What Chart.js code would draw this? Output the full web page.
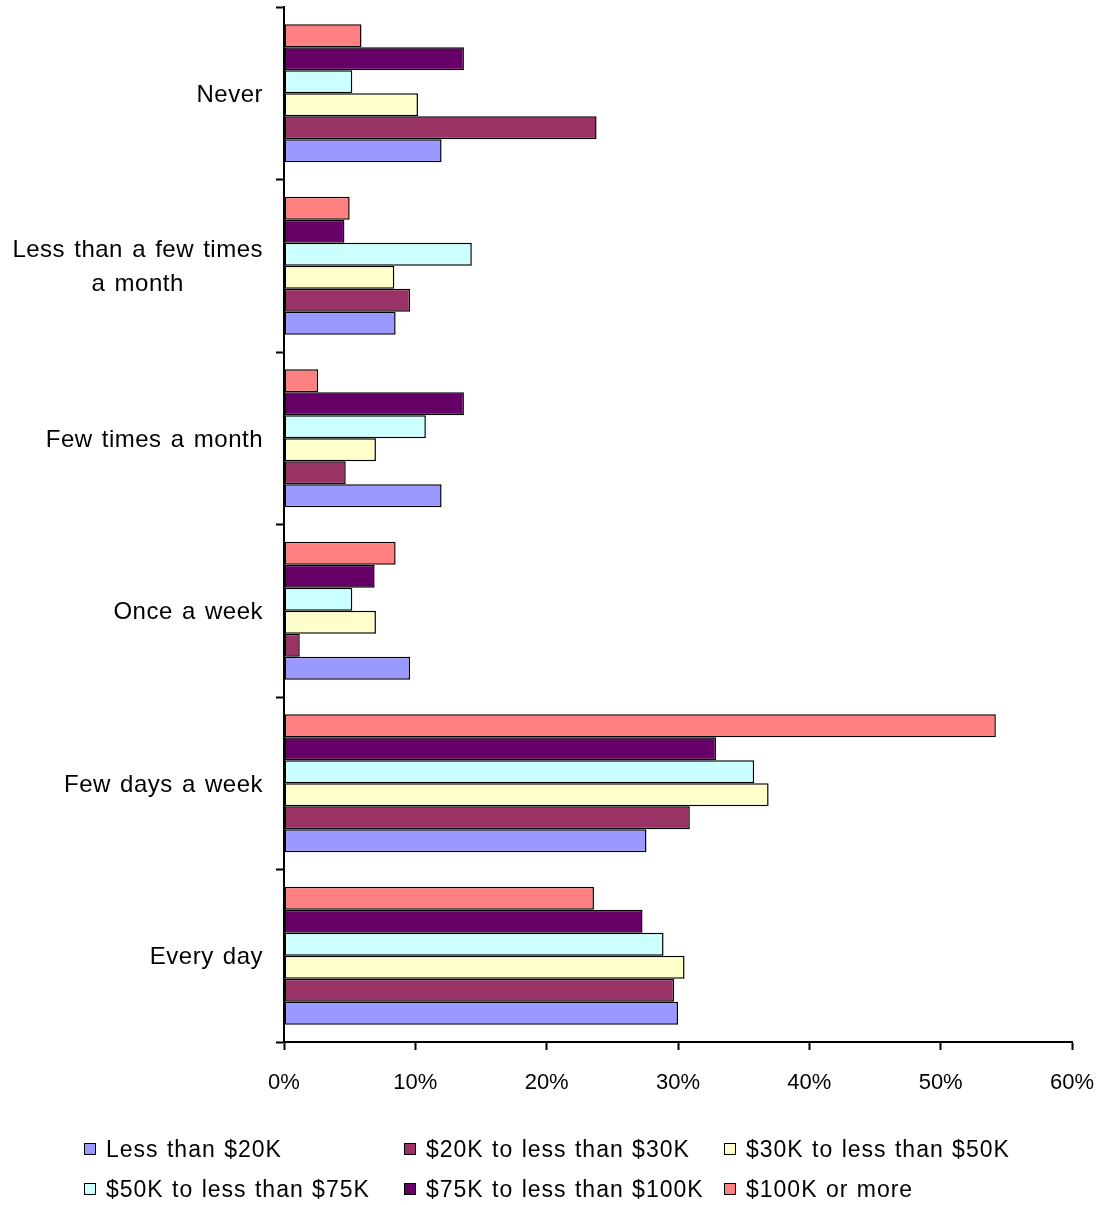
<!DOCTYPE html>
<html>
<head>
<meta charset="utf-8">
<script src="https://cdn.jsdelivr.net/npm/chart.js@4/dist/chart.umd.min.js"></script>
<style>
  html, body { margin: 0; padding: 0; background: #fff; }
  #wrap { position: relative; width: 1104px; height: 1205px; }
  #legend { position: absolute; left: 0; top: 0; width: 1104px; height: 1205px; pointer-events: none;
            font-family: "Liberation Sans", Arial, sans-serif; font-size: 23px; color: #000;
            word-spacing: 1px; letter-spacing: 1px; }
  .item { position: absolute; display: flex; align-items: center; white-space: nowrap; }
  .box { width: 10px; height: 10px; border: 1.5px solid #000; margin-right: 10px; flex: none; }
</style>
</head>
<body>
<div id="wrap">
  <canvas id="c" width="1104" height="1205"></canvas>
  <div id="legend"></div>
</div>
<script>
const categories = [
  "Never",
  ["Less than a few times", "a month"],
  "Few times a month",
  "Once a week",
  "Few days a week",
  "Every day"
];
const seriesNames = [
  "Less than $20K",
  "$20K to less than $30K",
  "$30K to less than $50K",
  "$50K to less than $75K",
  "$75K to less than $100K",
  "$100K or more"
];
const seriesColors = ["#9999FF", "#993366", "#FFFFCC", "#CCFFFF", "#660066", "#FF8080"];
const lessThan20K   = [12.0,  8.5, 12.0, 9.6, 27.6, 30.0];
const from20Kto30K  = [23.8,  9.6,  4.7, 1.2, 30.9, 29.7];
const from30Kto50K  = [10.2,  8.4,  7.0, 7.0, 36.9, 30.5];
const from50Kto75K  = [ 5.2, 14.3, 10.8, 5.2, 35.8, 28.9];
const from75Kto100K = [13.7,  4.6, 13.7, 6.9, 32.9, 27.3];
const over100K      = [ 5.9,  5.0,  2.6, 8.5, 54.2, 23.6];
const xTicks = [0, 10, 20, 30, 40, 50, 60];

const seriesValues = [lessThan20K, from20Kto30K, from30Kto50K, from50Kto75K, from75Kto100K, over100K];

// Datasets in reverse so the first series sits at the bottom of each group
const datasets = [];
for (let i = seriesNames.length - 1; i >= 0; i--) {
  datasets.push({
    label: seriesNames[i],
    data: seriesValues[i],
    backgroundColor: seriesColors[i],
    borderColor: "#000",
    borderWidth: 1.5,
    borderSkipped: false,
    categoryPercentage: 0.8,
    barPercentage: 1.0
  });
}

const FONT = "'Liberation Sans', Arial, sans-serif";

// Draw category labels: block right-aligned, lines centred within the block
const categoryLabels = {
  id: "categoryLabels",
  afterDraw(chart) {
    const ctx = chart.ctx;
    const scale = chart.scales.y;
    const right = 263;
    const lineH = 34;
    ctx.save();
    ctx.font = "24px " + FONT;
    try { ctx.wordSpacing = "2px"; ctx.letterSpacing = "0.5px"; } catch (e) {}
    ctx.fillStyle = "#000";
    ctx.textAlign = "center";
    ctx.textBaseline = "middle";
    chart.data.labels.forEach((lab, i) => {
      const lines = Array.isArray(lab) ? lab : [lab];
      const w = Math.max(...lines.map(l => ctx.measureText(l).width));
      const cx = right - w / 2;
      const cy = scale.getPixelForTick(i) + 2;
      lines.forEach((l, j) => {
        ctx.fillText(l, cx, cy + (j - (lines.length - 1) / 2) * lineH);
      });
    });
    ctx.restore();
  }
};

new Chart(document.getElementById("c"), {
  type: "bar",
  data: { labels: categories, datasets },
  plugins: [categoryLabels],
  options: {
    indexAxis: "y",
    responsive: false,
    animation: false,
    devicePixelRatio: 1,
    layout: { padding: { left: 0, right: 32, top: 7, bottom: 103 } },
    plugins: { legend: { display: false }, tooltip: { enabled: false } },
    scales: {
      y: {
        grid: { offset: true, drawOnChartArea: false, color: "#000", tickLength: 8, tickWidth: 2 },
        border: { color: "#000", width: 2 },
        ticks: { display: false },
        afterFit: (s) => { s.width = 284; s.paddingTop = 0; s.paddingBottom = 0; }
      },
      x: {
        min: 0, max: 60,
        afterBuildTicks: (s) => { s.ticks = xTicks.map(v => ({ value: v })); },
        grid: { drawOnChartArea: false, color: "#000", tickLength: 8, tickWidth: 2 },
        border: { color: "#000", width: 2 },
        ticks: { color: "#000", font: { family: FONT, size: 22 }, padding: 20, maxRotation: 0,
                 callback: (v) => v + "%" },
        afterFit: (s) => { s.height = 60; s.paddingLeft = 0; s.paddingRight = 0; }
      }
    }
  }
});

// HTML legend in original series order, 3 columns
const legend = document.getElementById("legend");
const colX = [84, 404, 724];
const rowY = [1149, 1189];
seriesNames.forEach((name, i) => {
  const el = document.createElement("div");
  el.className = "item";
  el.style.left = colX[i % 3] + "px";
  el.style.top = (rowY[Math.floor(i / 3)] - 14) + "px";
  el.style.height = "28px";
  const box = document.createElement("span");
  box.className = "box";
  box.style.background = seriesColors[i];
  const txt = document.createElement("span");
  txt.textContent = name;
  el.appendChild(box);
  el.appendChild(txt);
  legend.appendChild(el);
});
</script>
</body>
</html>
